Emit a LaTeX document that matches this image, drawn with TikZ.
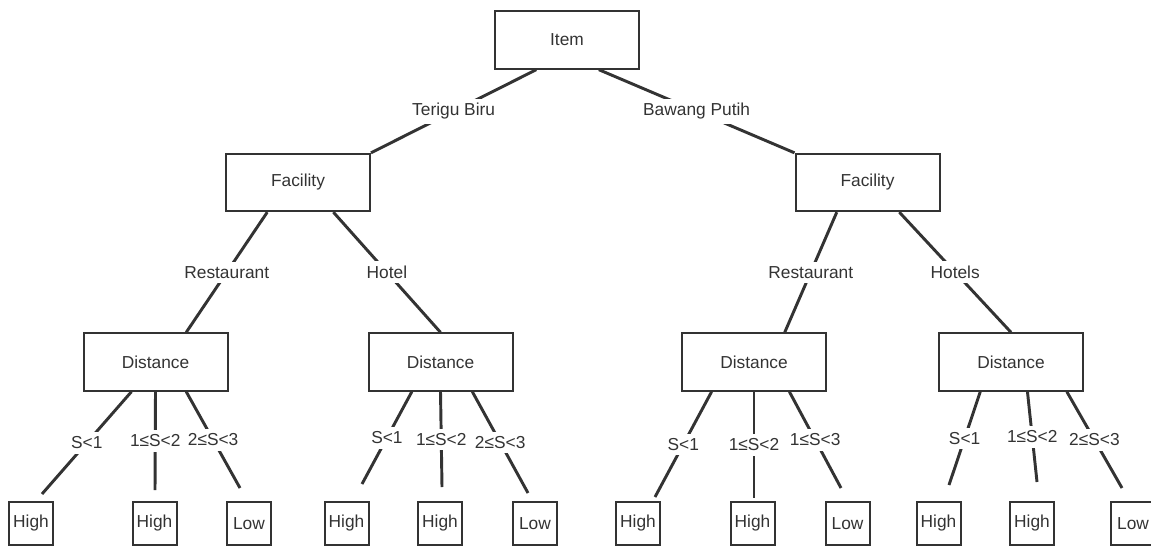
\documentclass[tikz,border=0pt]{standalone}
\usepackage{fontspec}
\setmainfont{Liberation Sans}

\definecolor{Ink}{HTML}{333333}

\tikzset{
  box/.style={draw=Ink, line width=1.5pt, minimum width=108pt, minimum height=43pt, inner sep=0pt, text=Ink, font=\fontsize{13}{15}\selectfont},
  leaf/.style={box, minimum width=33pt, minimum height=32pt},
  lbl/.style={fill=white, inner sep=3.5pt, text=Ink, font=\fontsize{13}{15}\selectfont},
  link/.style={draw=Ink, line width=2.2pt}
}

\begin{document}
\begin{tikzpicture}[x=0.75pt, y=-0.75pt]

 \useasboundingbox (0,0) rectangle (1151,546) ;

 %%%%%%%%%% Root and facilities %%%%%%%%%%
 \node[box] (item) at (567,40) {Item} ;
 \node[box] (facT) at (298,182.5) {Facility} ;
 \node[box] (facB) at (867.5,182.5) {Facility} ;

 %%%%%%%%%% Distance nodes %%%%%%%%%%
 \node[box] (disTR) at (155.5,362) {Distance} ;
 \node[box] (disTH) at (440.5,362) {Distance} ;
 \node[box] (disBR) at (754,362) {Distance} ;
 \node[box] (disBH) at (1011,362) {Distance} ;

 %%%%%%%%%% Leaves %%%%%%%%%%
 \node[leaf] (TRa) at (31,523.5) {High} ;
 \node[leaf] (TRb) at (154.5,523.5) {High} ;
 \node[leaf] (TRc) at (249,523.5) {Low} ;
 \node[leaf] (THa) at (346.5,523.5) {High} ;
 \node[leaf] (THb) at (440,523.5) {High} ;
 \node[leaf] (THc) at (535,523.5) {Low} ;
 \node[leaf] (BRa) at (638,523.5) {High} ;
 \node[leaf] (BRb) at (752.5,523.5) {High} ;
 \node[leaf] (BRc) at (847.5,523.5) {Low} ;
 \node[leaf] (BHa) at (938.5,523.5) {High} ;
 \node[leaf] (BHb) at (1032,523.5) {High} ;
 \node[leaf] (BHc) at (1133,523.5) {Low} ;

 %%%%%%%%%% Free ends above the leaves %%%%%%%%%%
 \coordinate (eTRa) at (42,494) ;
 \coordinate (eTRb) at (155,490) ;
 \coordinate (eTRc) at (240,488) ;
 \coordinate (eTHa) at (362,484) ;
 \coordinate (eTHb) at (442,487) ;
 \coordinate (eTHc) at (528,493) ;
 \coordinate (eBRa) at (655,497) ;
 \coordinate (eBRb) at (754,498) ;
 \coordinate (eBRc) at (841,488) ;
 \coordinate (eBHa) at (949,485) ;
 \coordinate (eBHb) at (1037,482) ;
 \coordinate (eBHc) at (1122,488) ;

 % Item
 \draw[link] (item.-136) -- node[lbl] {Terigu Biru} (facT.north east) ;
 \draw[link] (item.-43) -- node[lbl] {Bawang Putih} (facB.north west) ;

 % Facility
 \draw[link] (facT.-136) -- node[lbl] {Restaurant} (disTR.44) ;
 \draw[link] (facT.-40) -- node[lbl] {Hotel} (disTH.north) ;
 \draw[link] (facB.-136) -- node[lbl] {Restaurant} (disBR.44) ;
 \draw[link] (facB.-43) -- node[lbl] {Hotels} (disBH.north) ;

 % Distance, left
 \draw[link] (disTR.-129) -- node[lbl] {S<1} (eTRa) ;
 \draw[link] (disTR.south) -- node[lbl] {1≤S<2} (eTRb) ;
 \draw[link] (disTR.-44.5) -- node[lbl] {2≤S<3} (eTRc) ;

 \draw[link] (disTH.-134.5) -- node[lbl] {S<1} (eTHa) ;
 \draw[link] (disTH.south) -- node[lbl] {1≤S<2} (eTHb) ;
 \draw[link] (disTH.-43.6) -- node[lbl] {2≤S<3} (eTHc) ;

 % Distance, right
 \draw[link] (disBR.-145.4) -- node[lbl] {S<1} (eBRa) ;
 \draw[link] (disBR.south) -- node[lbl] {1≤S<2} (eBRb) ;
 \draw[link] (disBR.-40.5) -- node[lbl] {1≤S<3} (eBRc) ;

 \draw[link] (disBH.-136) -- node[lbl] {S<1} (eBHa) ;
 \draw[link] (disBH.-61) -- node[lbl] {1≤S<2} (eBHb) ;
 \draw[link] (disBH.-28) -- node[lbl] {2≤S<3} (eBHc) ;

\end{tikzpicture}
\end{document}
